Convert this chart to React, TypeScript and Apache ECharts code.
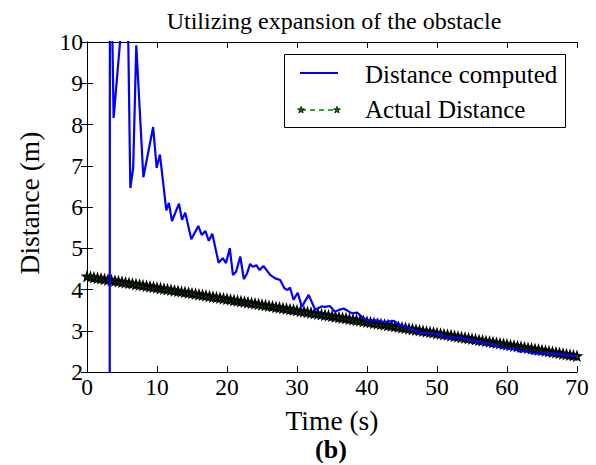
import React, { useEffect, useRef } from "react";
import * as echarts from "echarts";

// Estimated distance from the expanded obstacle (s, m)
const computedTime = [
  3.24, 3.28, 3.8, 5.0, 5.7, 6.19, 6.6, 7.04, 8.05, 9.45,
  9.95, 10.42, 11.33, 11.7, 12.14, 13.14, 13.57, 14.04, 14.9, 15.9,
  16.4, 16.9, 17.4, 17.9, 18.8, 19.4, 19.86, 20.4, 20.85, 21.3,
  21.9, 22.4, 22.86, 23.3, 23.7, 24.2, 24.66, 25.2, 26.2, 26.9,
  27.6, 28.2, 28.66, 29.0, 29.5, 30.1, 30.7, 31.66, 32.6, 33.5,
  34.0, 34.7, 35.4, 35.9, 36.66, 37.86, 38.6, 39.3, 40.0, 41.4,
  42.4, 43.8, 44.76, 46.2, 47.6, 49.5, 50.9, 52.4, 53.8, 55.2,
  56.4, 57.6, 59.0, 60.0, 60.9, 61.9, 62.86, 63.6, 64.76, 66.2,
  68.0, 70.0,
];
const computedDistance = [
  0.0, 14.0, 8.16, 10.56, 12.4, 6.46, 6.95, 9.92, 6.72, 7.94,
  6.95, 7.27, 5.92, 6.1, 5.66, 6.08, 5.69, 5.86, 5.22, 5.54,
  5.32, 5.42, 5.18, 5.35, 4.65, 4.76, 4.64, 5.0, 4.35, 4.43,
  4.8, 4.25, 4.39, 4.62, 4.55, 4.59, 4.47, 4.57, 4.35, 4.27,
  4.23, 4.03, 3.99, 4.05, 3.75, 3.92, 3.58, 3.87, 3.51, 3.59,
  3.58, 3.6, 3.46, 3.5, 3.54, 3.42, 3.44, 3.33, 3.25, 3.25,
  3.21, 3.24, 3.14, 3.06, 2.95, 2.94, 2.87, 2.84, 2.82, 2.76,
  2.71, 2.68, 2.6, 2.57, 2.57, 2.49, 2.52, 2.45, 2.45, 2.45,
  2.42, 2.38,
];

// Ground-truth distance, sampled every half second
const actualTime = [
  0, 0.5, 1, 1.5, 2, 2.5, 3, 3.5, 4, 4.5, 5, 5.5, 6, 6.5, 7, 7.5, 8, 8.5, 9, 9.5,
  10, 10.5, 11, 11.5, 12, 12.5, 13, 13.5, 14, 14.5, 15, 15.5, 16, 16.5, 17, 17.5, 18, 18.5, 19, 19.5,
  20, 20.5, 21, 21.5, 22, 22.5, 23, 23.5, 24, 24.5, 25, 25.5, 26, 26.5, 27, 27.5, 28, 28.5, 29, 29.5,
  30, 30.5, 31, 31.5, 32, 32.5, 33, 33.5, 34, 34.5, 35, 35.5, 36, 36.5, 37, 37.5, 38, 38.5, 39, 39.5,
  40, 40.5, 41, 41.5, 42, 42.5, 43, 43.5, 44, 44.5, 45, 45.5, 46, 46.5, 47, 47.5, 48, 48.5, 49, 49.5,
  50, 50.5, 51, 51.5, 52, 52.5, 53, 53.5, 54, 54.5, 55, 55.5, 56, 56.5, 57, 57.5, 58, 58.5, 59, 59.5,
  60, 60.5, 61, 61.5, 62, 62.5, 63, 63.5, 64, 64.5, 65, 65.5, 66, 66.5, 67, 67.5, 68, 68.5, 69, 69.5,
  70,
];
const actualDistance = [
  4.32, 4.306, 4.292, 4.279, 4.265, 4.251, 4.237, 4.223, 4.21, 4.196,
  4.182, 4.168, 4.154, 4.141, 4.127, 4.113, 4.099, 4.085, 4.072, 4.058,
  4.044, 4.03, 4.016, 4.003, 3.989, 3.975, 3.961, 3.947, 3.934, 3.92,
  3.906, 3.892, 3.878, 3.865, 3.851, 3.837, 3.823, 3.809, 3.796, 3.782,
  3.768, 3.754, 3.74, 3.727, 3.713, 3.699, 3.685, 3.671, 3.658, 3.644,
  3.63, 3.616, 3.602, 3.589, 3.575, 3.561, 3.547, 3.533, 3.52, 3.506,
  3.492, 3.478, 3.464, 3.451, 3.437, 3.423, 3.409, 3.395, 3.382, 3.368,
  3.354, 3.34, 3.326, 3.313, 3.299, 3.285, 3.271, 3.257, 3.244, 3.23,
  3.216, 3.202, 3.188, 3.175, 3.161, 3.147, 3.133, 3.119, 3.106, 3.092,
  3.078, 3.064, 3.05, 3.037, 3.023, 3.009, 2.995, 2.981, 2.968, 2.954,
  2.94, 2.926, 2.912, 2.899, 2.885, 2.871, 2.857, 2.843, 2.83, 2.816,
  2.802, 2.788, 2.774, 2.761, 2.747, 2.733, 2.719, 2.705, 2.692, 2.678,
  2.664, 2.65, 2.636, 2.623, 2.609, 2.595, 2.581, 2.567, 2.554, 2.54,
  2.526, 2.512, 2.498, 2.485, 2.471, 2.457, 2.443, 2.429, 2.416, 2.402,
  2.388,
];

const seriesNames = ["Distance computed", "Actual Distance"];
const titleText = "Utilizing expansion of the obstacle";
const xAxisTitle = "Time (s)";
const yAxisTitle = "Distance (m)";
const panelLabel = "(b)";

const SERIF = "'Liberation Serif', 'DejaVu Serif', serif";
const BLUE = "#0000ff";
const GREEN = "#008000";
const STAR_PATH =
  "path://M0,-10L2.35,-3.24L9.51,-3.09L3.8,1.24L5.88,8.09L0,4L-5.88,8.09L-3.8,1.24L-9.51,-3.09L-2.35,-3.24Z";

function starPoints(cx: number, cy: number, r: number): number[][] {
  const pts: number[][] = [];
  for (let i = 0; i < 10; i++) {
    const rad = i % 2 === 0 ? r : r * 0.4;
    const a = -Math.PI / 2 + (i * Math.PI) / 5;
    pts.push([cx + rad * Math.cos(a), cy + rad * Math.sin(a)]);
  }
  return pts;
}

export default function App() {
  const ref = useRef<HTMLDivElement>(null);

  useEffect(() => {
    if (!ref.current) return;
    const chart = echarts.init(ref.current, null, { renderer: "svg" });

    const grid = { left: 87, right: 19, top: 42, bottom: 93 };
    const axisLine = { show: true, lineStyle: { color: "#000", width: 1 } };
    const tick = { show: true, inside: true, length: 6, lineStyle: { color: "#000", width: 1 } };
    const label = { color: "#000", fontFamily: SERIF, fontSize: 23.5 };

    const legendStarA = starPoints(301, 110, 3.6);
    const legendStarB = starPoints(337, 110, 3.6);

    chart.setOption({
      animation: false,
      backgroundColor: "#fff",
      grid: { ...grid, outerBoundsMode: "none" },
      xAxis: [
        {
          type: "value", min: 0, max: 70, interval: 10, position: "bottom",
          axisLine, axisTick: tick, splitLine: { show: false },
          axisLabel: { ...label, margin: 3 },
        },
        {
          type: "value", min: 0, max: 70, interval: 10, position: "top",
          axisLine, axisTick: tick, splitLine: { show: false },
          axisLabel: { show: false },
        },
      ],
      yAxis: [
        {
          type: "value", min: 2, max: 10, interval: 1, position: "left",
          axisLine, axisTick: tick, splitLine: { show: false },
          axisLabel: { ...label, margin: 4 },
        },
        {
          type: "value", min: 2, max: 10, interval: 1, position: "right",
          axisLine, axisTick: tick, splitLine: { show: false },
          axisLabel: { show: false },
        },
      ],
      series: [
        {
          name: seriesNames[1],
          type: "line",
          data: actualTime.map((t, i) => [t, actualDistance[i]]),
          symbol: STAR_PATH,
          symbolSize: 8.5,
          showSymbol: true,
          showAllSymbol: true,
          itemStyle: { color: GREEN, borderColor: "#000", borderWidth: 1.5 },
          lineStyle: { color: GREEN, width: 1.5, type: [5, 4] },
          z: 2,
          clip: true,
        },
        {
          name: seriesNames[0],
          type: "line",
          data: computedTime.map((t, i) => [t, computedDistance[i]]),
          showSymbol: false,
          symbol: "none",
          lineStyle: { color: BLUE, width: 2.2 },
          z: 3,
          clip: true,
        },
      ],
      graphic: [
        {
          type: "text",
          x: 334, y: 20.5,
          style: {
            text: titleText, x: 0, y: 0, align: "center", verticalAlign: "middle",
            fontFamily: SERIF, fontSize: 24, fill: "#000",
          },
        },
        {
          type: "text",
          x: 332, y: 420,
          style: {
            text: xAxisTitle, x: 0, y: 0, align: "center", verticalAlign: "middle",
            fontFamily: SERIF, fontSize: 27.5, fill: "#000",
          },
        },
        {
          type: "text",
          x: 331, y: 449,
          style: {
            text: panelLabel, x: 0, y: 0, align: "center", verticalAlign: "middle",
            fontFamily: SERIF, fontSize: 26, fontWeight: "bold", fill: "#000",
          },
        },
        {
          type: "text",
          x: 29.5, y: 203, rotation: Math.PI / 2,
          style: {
            text: yAxisTitle, x: 0, y: 0, align: "center", verticalAlign: "middle",
            fontFamily: SERIF, fontSize: 27.5, fill: "#000",
          },
        },
        {
          type: "group",
          z: 100,
          children: [
            {
              type: "rect",
              shape: { x: 284.5, y: 54.5, width: 281, height: 73 },
              style: { fill: "#fff", stroke: "#000", lineWidth: 1 },
            },
            {
              type: "line",
              shape: { x1: 300, y1: 73, x2: 338, y2: 73 },
              style: { stroke: BLUE, lineWidth: 2 },
            },
            {
              type: "text",
              x: 365, y: 74,
              style: {
                text: seriesNames[0], x: 0, y: 0, verticalAlign: "middle",
                fontFamily: SERIF, fontSize: 25, fill: "#000",
              },
            },
            {
              type: "line",
              shape: { x1: 301, y1: 110, x2: 337, y2: 110 },
              style: { stroke: GREEN, lineWidth: 1.5, lineDash: [5, 4] },
            },
            {
              type: "polygon",
              shape: { points: legendStarA },
              style: { fill: GREEN, stroke: "#000", lineWidth: 0.8 },
            },
            {
              type: "polygon",
              shape: { points: legendStarB },
              style: { fill: GREEN, stroke: "#000", lineWidth: 0.8 },
            },
            {
              type: "text",
              x: 365, y: 109,
              style: {
                text: seriesNames[1], x: 0, y: 0, verticalAlign: "middle",
                fontFamily: SERIF, fontSize: 25, fill: "#000",
              },
            },
          ],
        },
      ],
    });

    return () => chart.dispose();
  }, []);

  return (
    <div
      ref={ref}
      style={{ position: "fixed", left: 0, top: 0, width: 596, height: 465, background: "#fff" }}
    />
  );
}
